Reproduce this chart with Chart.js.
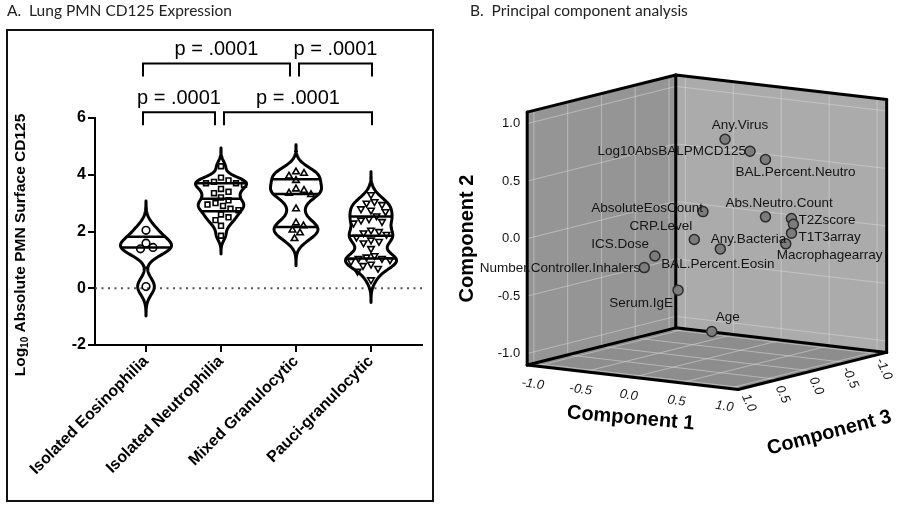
<!DOCTYPE html>
<html>
<head>
<meta charset="utf-8">
<script src="https://cdn.jsdelivr.net/npm/chart.js@4.4.1/dist/chart.umd.min.js"></script>
<style>
  html, body { margin: 0; padding: 0; background: #fff; }
  #wrap { position: relative; width: 900px; height: 506px; overflow: hidden; background: #fff; }
  .panel { position: absolute; top: 0; height: 506px; }
</style>
</head>
<body>
<div id="wrap">
  <div class="panel" style="left:0;width:440px"><canvas id="violinChart"></canvas></div>
  <div class="panel" style="left:440px;width:460px"><canvas id="pcaChart"></canvas></div>
</div>
<script>
// ==== DATA: panel A ====
const groups = ["Isolated Eosinophilia", "Isolated Neutrophilia", "Mixed Granulocytic", "Pauci-granulocytic"];
const eosinophilic = [2.04, 1.59, 1.44, 1.39, 0.06];
const neutrophilic = [4.3, 3.9, 3.8, 3.75, 3.7, 3.7, 3.65, 3.5, 3.4, 3.35, 3.2, 3.1, 3.0, 2.95, 2.9, 2.8, 2.75, 2.6, 2.5, 2.4, 2.2, 1.85];
const mixed = [4.1, 4.05, 3.95, 3.8, 3.5, 3.45, 3.35, 3.3, 2.8, 2.3, 2.2, 2.05, 1.95, 1.75];
const pauci = [3.3, 3.05, 3.0, 2.95, 2.8, 2.75, 2.7, 2.55, 2.45, 2.4, 2.35, 2.3, 2.05, 2.0, 1.95, 1.9,
               1.8, 1.7, 1.65, 1.6, 1.4, 1.15, 1.1, 1.05, 1.05, 1.0, 0.95, 0.85, 0.8, 0.7, 0.6, 0.3];
const yTicks = [-2, 0, 2, 4, 6];
const compareFrom = [1, 3, 1, 2];
const compareTo = [3, 4, 2, 4];
const compareLevel = [7.92, 7.92, 6.2, 6.2];
const compareP = ["p = .0001", "p = .0001", "p = .0001", "p = .0001"];

// ==== DATA: panel B (loadings) ====
const variables = ["Any.Virus", "Log10AbsBALPMCD125", "BAL.Percent.Neutro", "AbsoluteEosCount", "Abs.Neutro.Count",
  "T2Zscore", "Any.Bacteria", "T1T3array", "Macrophagearray", "CRP.Level", "BAL.Percent.Eosin", "ICS.Dose",
  "Number.Controller.Inhalers", "Serum.IgE", "Age"];
const component1 = [0.33, 0.52, 0.54, 0.17, 0.47, 0.67, 0.62, 0.53, 0.40, 0.15, 0.21, -0.12, -0.16, -0.16, -0.02];
const component2 = [0.87, 0.77, 0.67, 0.24, 0.15, 0.14, 0.07, -0.03, -0.15, 0.01, -0.11, -0.13, -0.22, -0.49, -0.88];
const component3 = [0.2, 0.1, -0.1, 0.3, -0.2, -0.3, -0.4, -0.5, -0.6, 0.4, 0.1, 0.6, 0.7, 0.2, -0.1];
const pcaTicks = [-1.0, -0.5, 0.0, 0.5, 1.0];

// label placement next to each point: [dx, dy, align]
const labelPlace = [[15, -14, "center"], [-4, 0, "right"], [-30, 13, "left"], [0, -3, "right"], [-40, -14, "left"],
  [7, 2, "left"], [-7, 15, "right"], [7, 4, "left"], [-9, 11, "left"], [-2, -13, "right"], [-59, 15, "left"],
  [-6, -12, "right"], [-4, 1, "right"], [-5, 13, "right"], [4, -14, "left"]];

const FONT = "'Liberation Sans', Arial, sans-serif";
const violinData = [eosinophilic, neutrophilic, mixed, pauci];
const markerStyles = ["circle", "rect", "triangle", "triangle"];
const markerRotation = [0, 0, 0, 180];

// ==== Utils ====
function bandwidth(vals) {
  const n = vals.length;
  const mean = vals.reduce((a, b) => a + b, 0) / n;
  const sd = Math.sqrt(vals.reduce((a, b) => a + (b - mean) ** 2, 0) / (n - 1));
  return 0.55 * sd * Math.pow(n, -0.2);
}

function quantile(vals, q) {
  const s = [...vals].sort((a, b) => a - b);
  let pos = q * (s.length + 1) - 1;
  pos = Math.max(0, Math.min(s.length - 1, pos));
  const lo = Math.floor(pos), hi = Math.ceil(pos);
  return s[lo] + (s[hi] - s[lo]) * (pos - lo);
}

function kde(vals) {
  const h = bandwidth(vals);
  const lo = Math.min(...vals) - 3.5 * h, hi = Math.max(...vals) + 3.5 * h;
  const prof = [];
  for (let i = 0; i <= 160; i++) {
    const y = lo + (hi - lo) * i / 160;
    let d = 0;
    vals.forEach(v => { d += Math.exp(-0.5 * ((y - v) / h) ** 2); });
    prof.push([y, d]);
  }
  const max = Math.max(...prof.map(p => p[1]));
  return prof.map(p => [p[0], p[1] / max]);
}

function widthAt(prof, v) {
  for (let k = 1; k < prof.length; k++) {
    if (prof[k][0] >= v) {
      const t = (v - prof[k - 1][0]) / (prof[k][0] - prof[k - 1][0]);
      return prof[k - 1][1] + (prof[k][1] - prof[k - 1][1]) * t;
    }
  }
  return 0;
}

// ==== PANEL A: violins ====
const violinPlugin = {
  id: "violins",
  beforeDatasetsDraw(chart) {
    const { ctx, chartArea, scales: { x, y } } = chart;
    ctx.save();
    // dotted zero line
    ctx.setLineDash([2, 4.5]);
    ctx.lineWidth = 2;
    ctx.strokeStyle = "#555";
    ctx.beginPath();
    ctx.moveTo(chartArea.left, y.getPixelForValue(0));
    ctx.lineTo(chartArea.right, y.getPixelForValue(0));
    ctx.stroke();
    ctx.setLineDash([]);

    const unit = x.getPixelForValue(2) - x.getPixelForValue(1);
    const halfW = 0.34 * unit;
    violinData.forEach((vals, i) => {
      const cx = x.getPixelForValue(i + 1);
      const prof = kde(vals);
      ctx.beginPath();
      prof.forEach(([v, w], k) => {
        const px = cx - w * halfW, py = y.getPixelForValue(v);
        if (k) ctx.lineTo(px, py); else ctx.moveTo(px, py);
      });
      for (let k = prof.length - 1; k >= 0; k--) {
        ctx.lineTo(cx + prof[k][1] * halfW, y.getPixelForValue(prof[k][0]));
      }
      ctx.closePath();
      ctx.lineWidth = 3;
      ctx.lineJoin = "round";
      ctx.strokeStyle = "#000";
      ctx.stroke();

      ctx.lineWidth = 2.5;
      [0.25, 0.5, 0.75].forEach(q => {
        const v = quantile(vals, q);
        const w = widthAt(prof, v) * halfW;
        const py = y.getPixelForValue(v);
        ctx.beginPath();
        ctx.moveTo(cx - w, py);
        ctx.lineTo(cx + w, py);
        ctx.stroke();
      });
    });
    ctx.restore();
  },
  afterDraw(chart) {
    const { ctx, scales: { x, y } } = chart;
    ctx.save();
    // panel title and frame
    ctx.fillStyle = "#222";
    ctx.font = "15.5px Lato, 'Open Sans', sans-serif";
    ctx.textBaseline = "middle";
    ctx.textAlign = "left";
    ctx.fillText("A.  Lung PMN CD125 Expression", 7, 11);
    ctx.strokeStyle = "#111";
    ctx.lineWidth = 2;
    ctx.strokeRect(7, 30, 426, 471);

    // comparison brackets
    ctx.strokeStyle = "#000";
    ctx.lineWidth = 2;
    ctx.fillStyle = "#000";
    ctx.font = "20px " + FONT;
    ctx.textAlign = "center";
    compareFrom.forEach((g, i) => {
      const sharedStart = compareTo.includes(g);
      const sharedEnd = compareFrom.includes(compareTo[i]);
      const x0 = x.getPixelForValue(g) + (sharedStart ? 3 : -3);
      const x1 = x.getPixelForValue(compareTo[i]) + (sharedEnd ? -6 : 1);
      const yy = y.getPixelForValue(compareLevel[i]);
      ctx.beginPath();
      ctx.moveTo(x0, yy + 13);
      ctx.lineTo(x0, yy);
      ctx.lineTo(x1, yy);
      ctx.lineTo(x1, yy + 13);
      ctx.stroke();
      ctx.fillText(compareP[i], (x0 + x1) / 2, yy - 14);
    });

    // y axis title with subscript
    ctx.translate(21, 245);
    ctx.rotate(-Math.PI / 2);
    const big = "bold 15.5px " + FONT, small = "bold 10px " + FONT;
    const parts = [["Log", big, 0], ["10", small, 4], [" Absolute PMN Surface CD125", big, 0]];
    let total = 0;
    parts.forEach(p => { ctx.font = p[1]; total += ctx.measureText(p[0]).width; });
    let cx = -total / 2;
    ctx.textAlign = "left";
    parts.forEach(p => {
      ctx.font = p[1];
      ctx.fillText(p[0], cx, p[2]);
      cx += ctx.measureText(p[0]).width;
    });
    ctx.restore();
  }
};

const violinChart = new Chart(document.getElementById("violinChart").getContext("2d"), {
  type: "scatter",
  data: {
    datasets: violinData.map((vals, i) => ({
      label: groups[i],
      data: vals.map(v => ({ x: i + 1, y: v })),
      pointStyle: markerStyles[i],
      rotation: markerRotation[i],
      pointRadius: i === 1 ? 3.4 : 3.8,
      borderColor: "#000",
      borderWidth: 1.6,
      backgroundColor: "rgba(255,255,255,0)"
    }))
  },
  options: {
    responsive: true,
    maintainAspectRatio: false,
    animation: false,
    layout: { padding: { left: 30, right: 18, top: 118, bottom: 0 } },
    plugins: { legend: { display: false }, tooltip: { enabled: false } },
    scales: {
      x: {
        type: "linear",
        min: 0.32,
        max: 4.68,
        afterBuildTicks: s => { s.ticks = groups.map((g, i) => ({ value: i + 1 })); },
        afterFit: s => { s.height = 161; },
        ticks: {
          callback: v => groups[v - 1],
          minRotation: 45,
          maxRotation: 45,
          autoSkip: false,
          padding: 0,
          color: "#000",
          font: { family: FONT, size: 16, weight: "bold" }
        },
        grid: { drawOnChartArea: false, tickLength: 7, lineWidth: 2, color: "#000" },
        border: { width: 2, color: "#000" }
      },
      y: {
        min: -2,
        max: 6,
        afterBuildTicks: s => { s.ticks = yTicks.map(v => ({ value: v })); },
        afterFit: s => { s.width = 65; },
        ticks: { padding: 2, color: "#000", font: { family: FONT, size: 16, weight: "bold" } },
        grid: { drawOnChartArea: false, tickLength: 7, lineWidth: 2, color: "#000" },
        border: { width: 2, color: "#000" }
      }
    }
  },
  plugins: [violinPlugin]
});

// beeswarm spread of the points, worked out in pixels from the scales
(function spreadPoints() {
  const xs = violinChart.scales.x, ys = violinChart.scales.y;
  const unit = xs.getPixelForValue(2) - xs.getPixelForValue(1);
  const gap = 7.8;
  violinChart.data.datasets.forEach((ds, i) => {
    const placed = [];
    const order = ds.data.map((d, k) => k).sort((a, b) => ds.data[b].y - ds.data[a].y);
    order.forEach(k => {
      const py = ys.getPixelForValue(ds.data[k].y);
      let off = 0;
      for (let s = 0; s < 200; s++) {
        const cand = (s % 2 ? 1 : -1) * Math.ceil(s / 2) * 0.5;
        const hit = placed.some(p => Math.hypot(p[0] - cand, p[1] - py) < gap);
        if (!hit) { off = cand; break; }
      }
      placed.push([off, py]);
      ds.data[k].x = i + 1 + off / unit;
    });
  });
  violinChart.update("none");
})();

// ==== PANEL B: 3D loadings ====
const HALF = 1.1;
function project(c1, c2, c3) {
  return { x: 0.836 * c1 - 0.589 * c3, y: c2 - 0.097 * c1 - 0.147 * c3 };
}

const boxPlugin = {
  id: "box3d",
  beforeDatasetsDraw(chart) {
    const { ctx, scales: { x, y } } = chart;
    const P = (a, b, c) => { const p = project(a, b, c); return [x.getPixelForValue(p.x), y.getPixelForValue(p.y)]; };
    const h = HALF;
    const poly = (pts, fill) => {
      ctx.beginPath();
      pts.forEach((p, k) => k ? ctx.lineTo(p[0], p[1]) : ctx.moveTo(p[0], p[1]));
      ctx.closePath();
      ctx.fillStyle = fill;
      ctx.fill();
    };
    const line = (a, b) => { ctx.beginPath(); ctx.moveTo(a[0], a[1]); ctx.lineTo(b[0], b[1]); ctx.stroke(); };
    ctx.save();
    ctx.fillStyle = "#222";
    ctx.font = "15.5px Lato, 'Open Sans', sans-serif";
    ctx.textBaseline = "middle";
    ctx.fillText("B.  Principal component analysis", 30, 11);

    // walls
    poly([P(-h, -h, h), P(-h, h, h), P(-h, h, -h), P(-h, -h, -h)], "#959595");
    poly([P(-h, -h, -h), P(-h, h, -h), P(h, h, -h), P(h, -h, -h)], "#ababab");
    poly([P(-h, -h, h), P(h, -h, h), P(h, -h, -h), P(-h, -h, -h)], "#8d8d8d");

    // grid
    ctx.strokeStyle = "rgba(215,215,215,0.55)";
    ctx.lineWidth = 1;
    pcaTicks.forEach(t => {
      line(P(-h, t, h), P(-h, t, -h));
      line(P(-h, -h, t), P(-h, h, t));
      line(P(-h, t, -h), P(h, t, -h));
      line(P(t, -h, -h), P(t, h, -h));
      line(P(t, -h, h), P(t, -h, -h));
      line(P(-h, -h, t), P(h, -h, t));
    });

    // edges
    ctx.strokeStyle = "#000";
    ctx.lineWidth = 3;
    ctx.lineCap = "round";
    [[P(-h, -h, h), P(-h, h, h)], [P(-h, -h, -h), P(-h, h, -h)], [P(h, -h, -h), P(h, h, -h)],
     [P(-h, h, h), P(-h, h, -h)], [P(-h, h, -h), P(h, h, -h)],
     [P(-h, -h, h), P(h, -h, h)], [P(h, -h, h), P(h, -h, -h)],
     [P(-h, -h, h), P(-h, -h, -h)], [P(-h, -h, -h), P(h, -h, -h)]].forEach(e => line(e[0], e[1]));

    // tick labels
    ctx.fillStyle = "#111";
    ctx.font = "13px " + FONT;
    ctx.textAlign = "right";
    pcaTicks.forEach(t => {
      const p = P(-h, t, h);
      ctx.fillText(t.toFixed(1), p[0] - 7, p[1]);
    });
    ctx.textAlign = "center";
    ctx.font = "italic 13px " + FONT;
    pcaTicks.forEach(t => {
      const p = P(t, -h, h);
      ctx.save();
      ctx.translate(p[0] - 4, p[1] + 18);
      ctx.rotate(8 * Math.PI / 180);
      ctx.fillText(t.toFixed(1), 0, 0);
      ctx.restore();
      const q = P(h, -h, t);
      ctx.save();
      ctx.translate(q[0] + 4, q[1] + 15);
      ctx.rotate(65 * Math.PI / 180);
      ctx.fillText(t.toFixed(1), 0, 0);
      ctx.restore();
    });

    // axis titles
    ctx.font = "bold 20px " + FONT;
    ctx.fillStyle = "#000";
    const c1 = P(0, -h, h), c3 = P(h, -h, 0), c2 = P(-h, 0, h);
    [[c1[0] - 2, c1[1] + 41, 5, "Component 1"], [c3[0] + 17, c3[1] + 62, -15, "Component 3"],
     [c2[0] - 60, c2[1], -90, "Component 2"]].forEach(t => {
      ctx.save();
      ctx.translate(t[0], t[1]);
      ctx.rotate(t[2] * Math.PI / 180);
      ctx.fillText(t[3], 0, 0);
      ctx.restore();
    });
    ctx.restore();
  },
  afterDatasetsDraw(chart) {
    const { ctx } = chart;
    const meta = chart.getDatasetMeta(0);
    ctx.save();
    ctx.font = "13.5px " + FONT;
    ctx.fillStyle = "#151515";
    ctx.textBaseline = "middle";
    meta.data.forEach((pt, i) => {
      const [dx, dy, align] = labelPlace[i];
      ctx.textAlign = align;
      ctx.fillText(variables[i], pt.x + dx, pt.y + dy);
    });
    ctx.restore();
  }
};

const pxPerUnit = 118;
new Chart(document.getElementById("pcaChart").getContext("2d"), {
  type: "scatter",
  data: {
    datasets: [{
      label: "Loadings",
      data: variables.map((v, i) => project(component1[i], component2[i], component3[i])),
      pointRadius: 5,
      backgroundColor: "#7c7c7c",
      borderColor: "#2b2b2b",
      borderWidth: 1.5
    }]
  },
  options: {
    responsive: true,
    maintainAspectRatio: false,
    animation: false,
    layout: { padding: 0 },
    plugins: { legend: { display: false }, tooltip: { enabled: false } },
    scales: {
      x: { display: false, min: -268 / pxPerUnit, max: 192 / pxPerUnit },
      y: { display: false, min: -274.3 / pxPerUnit, max: 231.7 / pxPerUnit }
    }
  },
  plugins: [boxPlugin]
});
</script>
</body>
</html>
